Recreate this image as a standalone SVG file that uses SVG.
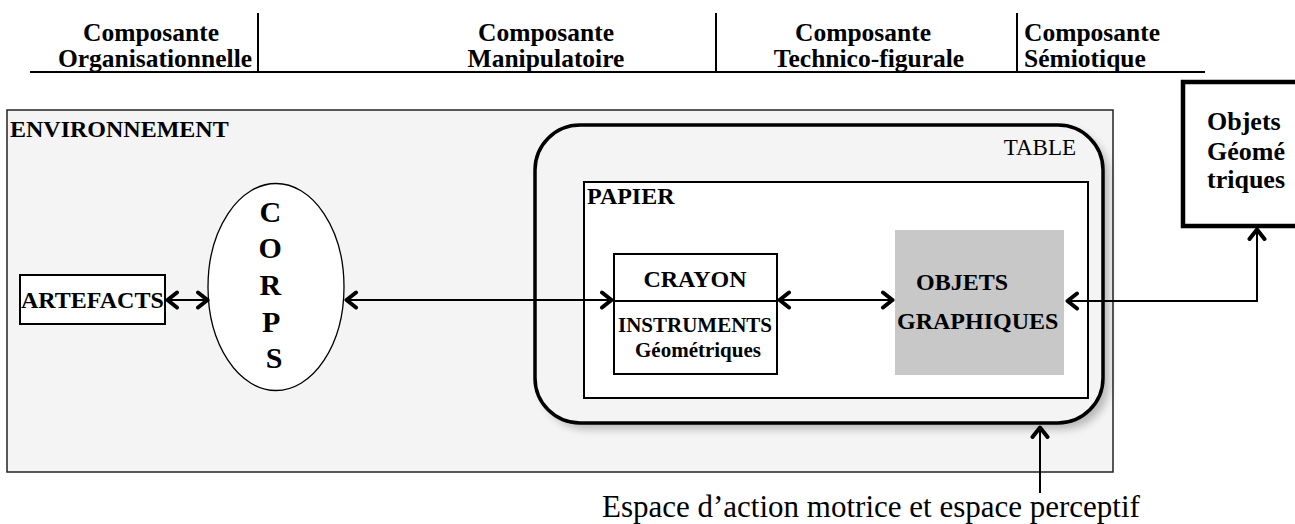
<svg xmlns="http://www.w3.org/2000/svg" width="1295" height="524" viewBox="0 0 1295 524">
<style>
text{font-family:"Liberation Serif","Times New Roman",serif;fill:#000}
.b{font-weight:bold}
.hd{font-size:25.5px;font-weight:bold}
.ln{stroke:#000;stroke-width:2;fill:none}
.cn{stroke:#000;stroke-width:2;fill:none;marker-start:url(#chev);marker-end:url(#chev)}
</style>
<defs>
<marker id="chev" viewBox="0 0 16 20" refX="13" refY="10" markerWidth="16" markerHeight="20" markerUnits="userSpaceOnUse" orient="auto-start-reverse">
<path d="M3,2.5 L12.5,10 L3,17.5" fill="none" stroke="#000" stroke-width="4" stroke-linecap="round" stroke-linejoin="round"/>
</marker>
<filter id="sh" x="-10%" y="-10%" width="120%" height="130%">
<feGaussianBlur stdDeviation="4"/>
</filter>
</defs>

<g id="header">
<line class="ln" x1="30" y1="72" x2="1205" y2="72"/>
<line class="ln" x1="258" y1="13" x2="258" y2="72"/>
<line class="ln" x1="716" y1="13" x2="716" y2="72"/>
<line class="ln" x1="1017" y1="13" x2="1017" y2="72"/>
<text class="hd" x="151" y="41" text-anchor="middle">Composante</text>
<text class="hd" x="155" y="67" text-anchor="middle">Organisationnelle</text>
<text class="hd" x="546" y="41" text-anchor="middle">Composante</text>
<text class="hd" x="546" y="67" text-anchor="middle">Manipulatoire</text>
<text class="hd" x="863" y="41" text-anchor="middle">Composante</text>
<text class="hd" x="869" y="67" text-anchor="middle">Technico-figurale</text>
<text class="hd" x="1024" y="41">Composante</text>
<text class="hd" x="1024" y="67">Sémiotique</text>
</g>

<g id="environnement">
<rect x="7" y="110" width="1106" height="362" fill="#f4f4f4" stroke="#222" stroke-width="1.5"/>
<text class="b" x="10" y="137" font-size="24">ENVIRONNEMENT</text>
</g>

<g id="table">
<rect x="541" y="131" width="568" height="298" rx="45" fill="#000" opacity="0.25" filter="url(#sh)"/>
<rect x="535" y="125" width="568" height="298" rx="45" fill="#f4f4f4" stroke="#000" stroke-width="3.5"/>
<text x="1076" y="155" font-size="23" text-anchor="end">TABLE</text>
</g>

<g id="papier">
<rect x="584" y="182" width="504" height="216" fill="#fff" stroke="#000" stroke-width="2"/>
<text class="b" x="587" y="204" font-size="24">PAPIER</text>
</g>

<g id="artefacts">
<rect x="20" y="275" width="145" height="49" fill="#fff" stroke="#000" stroke-width="2"/>
<text class="b" x="21" y="308" font-size="24">ARTEFACTS</text>
</g>

<g id="corps">
<ellipse cx="276" cy="287" rx="68" ry="103.5" fill="#fff" stroke="#000" stroke-width="1.3"/>
<text class="b" font-size="30" text-anchor="middle">
<tspan x="274" y="222">C</tspan>
<tspan x="274" y="258">O</tspan>
<tspan x="274" y="295">R</tspan>
<tspan x="274" y="332">P</tspan>
<tspan x="274" y="368">S</tspan>
</text>
</g>

<g id="crayon">
<rect x="614" y="254" width="163" height="120" fill="#fff" stroke="#000" stroke-width="2"/>
<line class="ln" x1="614" y1="301" x2="777" y2="301"/>
<text class="b" x="695" y="287" font-size="24" text-anchor="middle">CRAYON</text>
<text class="b" x="695" y="332" font-size="21" text-anchor="middle">INSTRUMENTS</text>
<text class="b" x="698" y="357" font-size="21" text-anchor="middle">Géométriques</text>
</g>

<g id="objets-graphiques">
<rect x="895" y="230" width="169" height="145" fill="#c8c8c8"/>
<text class="b" x="916" y="290" font-size="24">OBJETS</text>
<text class="b" x="897" y="329" font-size="24">GRAPHIQUES</text>
</g>

<g id="objets-geometriques">
<rect x="1183" y="82" width="130" height="144" fill="#fff" stroke="#000" stroke-width="4.5"/>
<text class="b" x="1207" y="130" font-size="26">Objets</text>
<text class="b" x="1207" y="160" font-size="26">Géomé</text>
<text class="b" x="1207" y="188" font-size="26">triques</text>
</g>

<g id="connectors">
<path class="cn" d="M167,300 L208,300"/>
<path class="cn" d="M346,300 L612,300"/>
<path class="cn" d="M779,300 L893,300"/>
<path class="cn" d="M1067,301 L1257,301 L1257,229"/>
<path class="ln" d="M1040,493 L1040,427" style="marker-end:url(#chev)"/>
</g>

<g id="legende">
<text x="602" y="517" font-size="31">Espace d’action motrice et espace perceptif</text>
</g>
</svg>
